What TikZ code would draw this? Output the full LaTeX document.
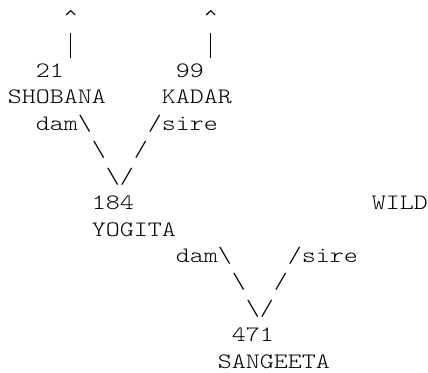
\documentclass[tikz,border=0pt]{standalone}
\usepackage{fontspec}
\setmonofont{Latin Modern Mono Light}[FakeStretch=1.212]
\newcommand\asciitok[5][asciitext]{\node[#1] (#2) at ({7.7+14*#3},{-24.4-26.45*#4}) {#5};}
\begin{document}
\begin{tikzpicture}[x=1pt,y=1pt,
  asciitext/.style={inner sep=0pt, anchor=base west, text=black,
    font=\ttfamily\fontsize{22}{26.45}\selectfont},
  asciilink/.style={asciitext},
  upbar/.style={draw=black, line width=0.9pt},
  upcaret/.style={draw=black, line width=1.1pt, line join=miter}]
\useasboundingbox (0,0) rectangle (428,-372);
% rows 0-1: upward pointers above the parents
\foreach \nm/\cx in {A/70.7, B/210.7}{
  \coordinate (peak\nm) at (\cx,-10.6);
  \coordinate (barTop\nm) at (\cx,-33.3);
  \coordinate (barBot\nm) at (\cx,-58.0);
  \path[upcaret] ([xshift=-4.5pt,yshift=-4.4pt]peak\nm) -- (peak\nm) -- ([xshift=4.5pt,yshift=-4.4pt]peak\nm);
  \path[upbar] (barTop\nm) -- (barBot\nm);
}
% parents
\asciitok{idA}{2}{2}{21}
\asciitok{idB}{12}{2}{99}
\asciitok{nmA}{0}{3}{SHOBANA}
\asciitok{nmB}{11}{3}{KADAR}
\asciitok{damA}{2}{4}{dam\textbackslash}
\asciitok{sireA}{10}{4}{/sire}
\asciitok[asciilink]{lA1}{6}{5}{\textbackslash}
\asciitok[asciilink]{rA1}{9}{5}{/}
\asciitok[asciilink]{lA2}{7}{6}{\textbackslash}
\asciitok[asciilink]{rA2}{8}{6}{/}
% YOGITA
\asciitok{idC}{6}{7}{184}
\asciitok{wild}{26}{7}{WILD}
\asciitok{nmC}{6}{8}{YOGITA}
\asciitok{damB}{12}{9}{dam\textbackslash}
\asciitok{sireB}{20}{9}{/sire}
\asciitok[asciilink]{lB1}{16}{10}{\textbackslash}
\asciitok[asciilink]{rB1}{19}{10}{/}
\asciitok[asciilink]{lB2}{17}{11}{\textbackslash}
\asciitok[asciilink]{rB2}{18}{11}{/}
% SANGEETA
\asciitok{idD}{16}{12}{471}
\asciitok{nmD}{15}{13}{SANGEETA}
\end{tikzpicture}
\end{document}
